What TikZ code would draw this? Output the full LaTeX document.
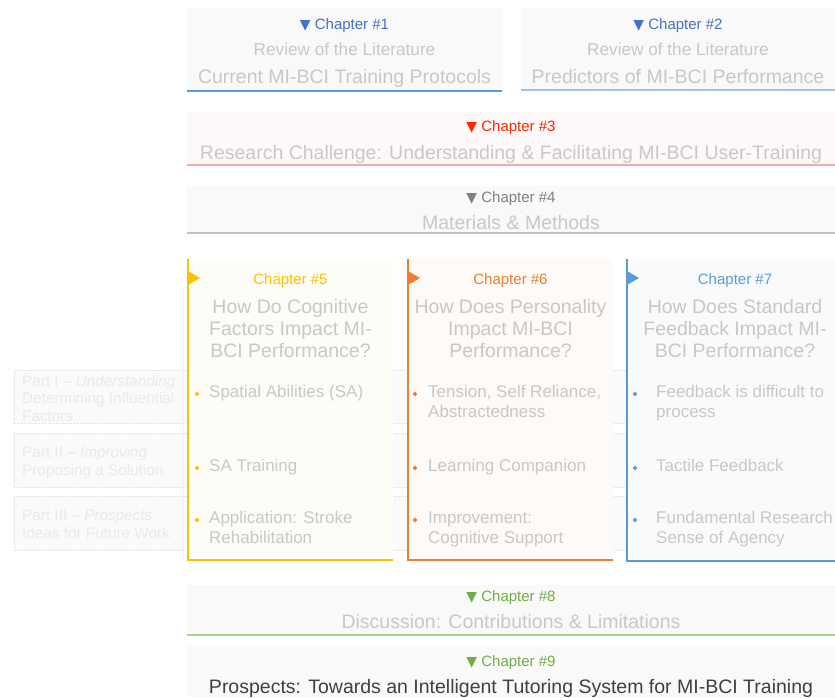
\documentclass[tikz,border=0pt]{standalone}
\usepackage{fontspec}
\setmainfont{Liberation Sans}
\newfontfamily\symfont{DejaVu Sans}
\usetikzlibrary{shapes.geometric, positioning, calc}
\definecolor{TextGray}{RGB}{200, 200, 200}
\definecolor{DarkText}{RGB}{64, 64, 64}
\definecolor{PartText}{RGB}{234, 234, 234}
\definecolor{PartLine}{RGB}{230, 230, 230}
\definecolor{PartFill}{RGB}{250, 250, 250}
\definecolor{BoxFill}{RGB}{249, 249, 249}
\definecolor{ChBlue}{RGB}{68, 114, 196}
\definecolor{ChBlueLine}{RGB}{91, 155, 213}
\definecolor{ChBlueLight}{RGB}{157, 195, 230}
\definecolor{ChRed}{RGB}{255, 40, 0}
\definecolor{ChRedLine}{RGB}{244, 170, 170}
\definecolor{ChGray}{RGB}{128, 128, 128}
\definecolor{ChGrayLine}{RGB}{191, 191, 191}
\definecolor{ChGold}{RGB}{255, 192, 0}
\definecolor{ChOrange}{RGB}{237, 125, 49}
\definecolor{ChSky}{RGB}{91, 155, 213}
\definecolor{ChGreen}{RGB}{112, 173, 71}
\definecolor{ChGreenLine}{RGB}{169, 209, 142}
\definecolor{FillRed}{RGB}{252, 249, 248}
\definecolor{FillGold}{RGB}{254, 252, 246}
\definecolor{FillOrange}{RGB}{253, 250, 247}
\definecolor{FillSky}{RGB}{248, 250, 252}
\definecolor{FillGreen}{RGB}{249, 250, 248}
\newcommand{\tri}{{\symfont\fontsize{14}{14}\selectfont ▼}}
\newcommand{\headfont}{\fontsize{19.5}{22}\selectfont}
\newcommand{\subfont}{\fontsize{17.2}{20}\selectfont}
\newcommand{\labfont}{\fontsize{15}{17}\selectfont}
\newcommand{\itemfont}{\fontsize{17}{20}\selectfont}
\newcommand{\partfont}{\fontsize{15.3}{17.5}\selectfont}

\begin{document}
\begin{tikzpicture}[x=1pt, y=-1pt,
    chapbox/.style={anchor=north west, inner sep=0pt, outer sep=0pt, fill=#1},
    partbox/.style={anchor=north west, inner sep=0pt, outer sep=0pt, fill=PartFill, draw=PartLine, densely dotted},
    chaplab/.style={anchor=base, inner sep=0pt, text=#1, font=\labfont},
    sub/.style={anchor=base, inner sep=0pt, text=TextGray, font=\subfont},
    head/.style={anchor=base, inner sep=0pt, text=TextGray, font=\headfont, align=center},
    item/.style={anchor=base west, inner sep=0pt, text=TextGray, font=\itemfont, align=left},
    bullet/.style={diamond, fill=#1, inner sep=0pt, minimum size=5pt},
    parttext/.style={anchor=base west, inner sep=0pt, text=PartText, font=\partfont, align=left}
]
    \useasboundingbox[fill=white] (0,0) rectangle (835,697);

    % parts, behind everything (multi-line nodes sit on their last baseline)
    \node[partbox, minimum width=821pt, minimum height=53pt] (part1) at (14,370) {};
    \node[partbox, minimum width=821pt, minimum height=54pt] (part2) at (14,433) {};
    \node[partbox, minimum width=821pt, minimum height=54pt] (part3) at (14,496) {};
    \node[parttext] (part1txt) at (22,421) {Part I – \textit{Understanding}\\Determining Influential\\Factors};
    \node[parttext] (part2txt) at (22,475) {Part II – \textit{Improving}\\Proposing a Solution};
    \node[parttext] (part3txt) at (22,538) {Part III – \textit{Prospects}\\Ideas for Future Work};

    % chapters 1 and 2
    \node[chapbox=BoxFill, minimum width=315pt, minimum height=83pt] (ch1) at (187,8) {};
    \node[chaplab=ChBlue] (ch1lab) at (344.5,29) {\tri\ Chapter \#1};
    \node[sub] (ch1sub) at (344.5,55) {Review of the Literature};
    \node[head] (ch1head) at (344.5,83) {Current MI-BCI Training Protocols};
    \draw[ChBlueLine, line width=1.2pt] (ch1.south west) -- (ch1.south east);

    \node[chapbox=BoxFill, minimum width=314pt, minimum height=82pt] (ch2) at (521,8) {};
    \node[chaplab=ChBlue] (ch2lab) at (678,29) {\tri\ Chapter \#2};
    \node[sub] (ch2sub) at (678,55) {Review of the Literature};
    \node[head] (ch2head) at (678,83) {Predictors of MI-BCI Performance};
    \draw[ChBlueLight, line width=1.2pt] (ch2.south west) -- (ch2.south east);

    % chapter 3
    \node[chapbox=FillRed, minimum width=648pt, minimum height=53pt] (ch3) at (187,112) {};
    \node[chaplab=ChRed] (ch3lab) at (511,131) {\tri\ Chapter \#3};
    \node[head] (ch3head) at (511,159) {Research Challenge: Understanding \& Facilitating MI-BCI User-Training};
    \draw[ChRedLine, line width=1.2pt] (ch3.south west) -- (ch3.south east);

    % chapter 4
    \node[chapbox=BoxFill, minimum width=648pt, minimum height=47pt] (ch4) at (187,186) {};
    \node[chaplab=ChGray] (ch4lab) at (511,202) {\tri\ Chapter \#4};
    \node[head] (ch4head) at (511,229) {Materials \& Methods};
    \draw[ChGrayLine, line width=1.2pt] (ch4.south west) -- (ch4.south east);

    % chapter 5
    \node[chapbox=FillGold, minimum width=205pt, minimum height=301pt] (ch5) at (188,259) {};
    \draw[ChGold, line width=1.2pt] (ch5.north west) -- (ch5.south west) -- (ch5.south east);
    \fill[ChGold] (188,271) -- (200,278) -- (188,285) -- cycle;
    \node[chaplab=ChGold] (ch5lab) at (290.5,284) {Chapter \#5};
    \node[head] (ch5head) at (290.5,357) {How Do Cognitive\\Factors Impact MI-\\BCI Performance?};
    \node[bullet=ChGold] (ch5b1) at (197,394) {};
    \node[item] (ch5i1) at (209,397) {Spatial Abilities (SA)};
    \node[bullet=ChGold] (ch5b2) at (197,468) {};
    \node[item] (ch5i2) at (209,471) {SA Training};
    \node[bullet=ChGold] (ch5b3) at (197,520) {};
    \node[item] (ch5i3) at (209,543) {Application: Stroke\\Rehabilitation};

    % chapter 6
    \node[chapbox=FillOrange, minimum width=205pt, minimum height=301pt] (ch6) at (408,259) {};
    \draw[ChOrange, line width=1.2pt] (ch6.north west) -- (ch6.south west) -- (ch6.south east);
    \fill[ChOrange] (408,271) -- (420,278) -- (408,285) -- cycle;
    \node[chaplab=ChOrange] (ch6lab) at (510.5,284) {Chapter \#6};
    \node[head] (ch6head) at (510.5,357) {How Does Personality\\Impact MI-BCI\\Performance?};
    \node[bullet=ChOrange] (ch6b1) at (415,394) {};
    \node[item] (ch6i1) at (428,417) {Tension, Self Reliance,\\Abstractedness};
    \node[bullet=ChOrange] (ch6b2) at (415,468) {};
    \node[item] (ch6i2) at (428,471) {Learning Companion};
    \node[bullet=ChOrange] (ch6b3) at (415,520) {};
    \node[item] (ch6i3) at (428,543) {Improvement:\\Cognitive Support};

    % chapter 7
    \node[chapbox=FillSky, minimum width=208pt, minimum height=302pt] (ch7) at (627,259) {};
    \draw[ChSky, line width=1.2pt] (ch7.north west) -- (ch7.south west) -- (ch7.south east);
    \fill[ChSky] (627,271) -- (639,278) -- (627,285) -- cycle;
    \node[chaplab=ChSky] (ch7lab) at (735,284) {Chapter \#7};
    \node[head] (ch7head) at (735,357) {How Does Standard\\Feedback Impact MI-\\BCI Performance?};
    \node[bullet=ChSky] (ch7b1) at (635,394) {};
    \node[item] (ch7i1) at (656,417) {Feedback is difficult to\\process};
    \node[bullet=ChSky] (ch7b2) at (635,468) {};
    \node[item] (ch7i2) at (656,471) {Tactile Feedback};
    \node[bullet=ChSky] (ch7b3) at (635,520) {};
    \node[item] (ch7i3) at (656,543) {Fundamental Research\\Sense of Agency};

    % chapter 8
    \node[chapbox=FillGreen, minimum width=648pt, minimum height=50pt] (ch8) at (187,585) {};
    \node[chaplab=ChGreen] (ch8lab) at (511,601) {\tri\ Chapter \#8};
    \node[head] (ch8head) at (511,628) {Discussion: Contributions \& Limitations};
    \draw[ChGreenLine, line width=1.2pt] (ch8.south west) -- (ch8.south east);

    % chapter 9
    \node[chapbox=FillGreen, minimum width=648pt, minimum height=51pt] (ch9) at (187,646) {};
    \node[chaplab=ChGreen] (ch9lab) at (511,666) {\tri\ Chapter \#9};
    \node[head, text=DarkText] (ch9head) at (511,693) {Prospects: Towards an Intelligent Tutoring System for MI-BCI Training};
\end{tikzpicture}
\end{document}
